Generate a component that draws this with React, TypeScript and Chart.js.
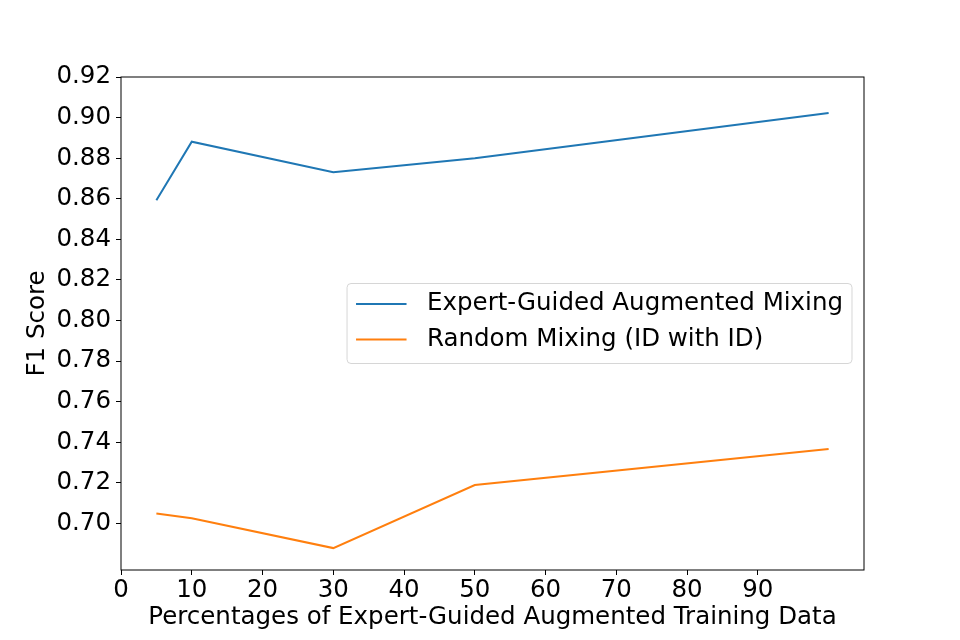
import { useEffect, useRef } from 'react';
import { Chart, registerables } from 'chart.js';

// Register Chart.js components
Chart.register(...registerables);

const FONT = "'DejaVu Sans', sans-serif";
const TICK_SIZE = 24.5;
const LABEL_SIZE = 24.5;

// Data
const percentages = [5, 10, 30, 50, 100];
const expertGuided = [0.8593, 0.8881, 0.8731, 0.8800, 0.9023];
const randomMixing = [0.7049, 0.7025, 0.6878, 0.7189, 0.7366];
const seriesLabels = ['Expert-Guided Augmented Mixing', 'Random Mixing (ID with ID)'];
const seriesColors = ['#1f77b4', '#ff7f0e'];
const xTicks = [0, 10, 20, 30, 40, 50, 60, 70, 80, 90];
const yTicks = [0.70, 0.72, 0.74, 0.76, 0.78, 0.80, 0.82, 0.84, 0.86, 0.88, 0.90, 0.92];
const xTitle = 'Percentages of Expert-Guided Augmented Training Data';
const yTitle = 'F1 Score';

// Axes frame + matplotlib-style legend ("center right") drawn inside the plot area
const frameLegendPlugin = {
  id: 'frameLegend',
  afterDraw(chart: Chart) {
    const { ctx, chartArea } = chart;
    const { left, top, right, bottom } = chartArea;
    ctx.save();

    // full box around the axes
    ctx.strokeStyle = '#000000';
    ctx.lineWidth = 1;
    ctx.strokeRect(left, top, right - left, bottom - top);

    // legend
    ctx.font = `${LABEL_SIZE}px ${FONT}`;
    const textWidth = Math.max(...seriesLabels.map(l => ctx.measureText(l).width));
    const boxW = 80 + textWidth + 9;
    const boxH = 80;
    const boxX = right - 12 - boxW;
    const boxY = (top + bottom) / 2 - boxH / 2;

    ctx.beginPath();
    ctx.roundRect(boxX, boxY, boxW, boxH, 4);
    ctx.fillStyle = 'rgba(255, 255, 255, 0.8)';
    ctx.fill();
    ctx.strokeStyle = 'rgba(204, 204, 204, 0.8)';
    ctx.lineWidth = 1;
    ctx.stroke();

    seriesLabels.forEach((label, i) => {
      const rowY = boxY + 20.4 + i * 35.6;
      ctx.beginPath();
      ctx.moveTo(boxX + 9, rowY);
      ctx.lineTo(boxX + 59.5, rowY);
      ctx.strokeStyle = seriesColors[i];
      ctx.lineWidth = 2;
      ctx.stroke();

      ctx.fillStyle = '#000000';
      ctx.textAlign = 'left';
      ctx.textBaseline = 'middle';
      ctx.fillText(label, boxX + 80, rowY);
    });

    ctx.restore();
  }
};

export default function App() {
  const canvasRef = useRef<HTMLCanvasElement>(null);

  useEffect(() => {
    if (!canvasRef.current) return;

    const chart = new Chart(canvasRef.current, {
      type: 'line',
      data: {
        datasets: [
          {
            label: seriesLabels[0],
            data: percentages.map((x, i) => ({ x, y: expertGuided[i] })),
            borderColor: seriesColors[0],
            backgroundColor: seriesColors[0],
            borderWidth: 2,
            pointRadius: 0,
            tension: 0,
            fill: false
          },
          {
            label: seriesLabels[1],
            data: percentages.map((x, i) => ({ x, y: randomMixing[i] })),
            borderColor: seriesColors[1],
            backgroundColor: seriesColors[1],
            borderWidth: 2,
            pointRadius: 0,
            tension: 0,
            fill: false
          }
        ]
      },
      options: {
        responsive: true,
        maintainAspectRatio: false,
        animation: false,
        layout: {
          padding: { left: 0, top: 77, right: 96, bottom: 0 }
        },
        plugins: {
          legend: { display: false },
          tooltip: { enabled: false }
        },
        scales: {
          x: {
            type: 'linear',
            min: 0,
            max: 105,
            afterBuildTicks: (scale: any) => {
              scale.ticks = xTicks.map(value => ({ value }));
            },
            afterFit: (scale: any) => {
              scale.height = 70;
            },
            border: { display: false },
            grid: {
              drawOnChartArea: false,
              drawTicks: true,
              tickLength: 5,
              tickColor: '#000000',
              tickWidth: 1
            },
            ticks: {
              color: '#000000',
              font: { family: FONT, size: TICK_SIZE },
              padding: 1,
              maxRotation: 0,
              autoSkip: false,
              callback: (v: any) => String(v)
            },
            title: {
              display: true,
              text: xTitle,
              color: '#000000',
              font: { family: FONT, size: LABEL_SIZE },
              padding: { top: 0, bottom: 7.3 }
            }
          },
          y: {
            type: 'linear',
            min: 0.677,
            max: 0.92,
            afterBuildTicks: (scale: any) => {
              scale.ticks = yTicks.map(value => ({ value }));
            },
            afterFit: (scale: any) => {
              scale.width = 121;
            },
            border: { display: false },
            grid: {
              drawOnChartArea: false,
              drawTicks: true,
              tickLength: 5,
              tickColor: '#000000',
              tickWidth: 1
            },
            ticks: {
              color: '#000000',
              font: { family: FONT, size: TICK_SIZE },
              padding: 5,
              autoSkip: false,
              callback: (v: any) => Number(v).toFixed(2)
            },
            title: {
              display: true,
              text: yTitle,
              color: '#000000',
              font: { family: FONT, size: LABEL_SIZE },
              padding: { top: 23, bottom: 0 }
            }
          }
        }
      },
      plugins: [frameLegendPlugin]
    });

    return () => {
      chart.destroy();
    };
  }, []);

  return (
    <div style={{ position: 'fixed', left: 0, top: 0, width: 960, height: 640, background: '#ffffff' }}>
      <canvas ref={canvasRef}></canvas>
    </div>
  );
}
